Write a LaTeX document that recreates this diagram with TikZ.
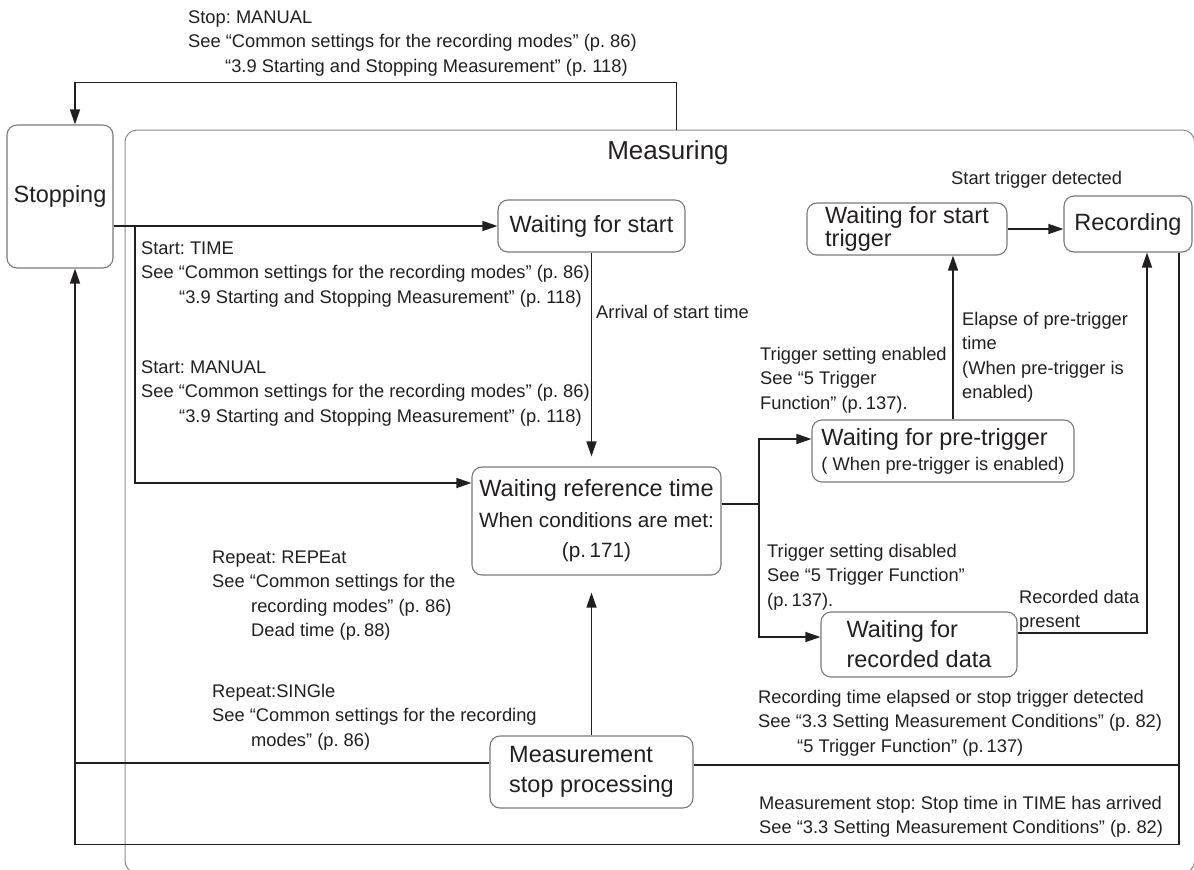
\documentclass[tikz,border=0pt]{standalone}
\usepackage{fontspec}
\setmainfont{Liberation Sans}
\usetikzlibrary{arrows.meta}
\definecolor{ink}{HTML}{231F20}
\definecolor{boxgray}{HTML}{7A7A7A}
\definecolor{megray}{HTML}{8C8C8C}
\newcommand\fbig{\fontsize{23.5}{30}\selectfont}
\newcommand\fmed{\fontsize{20.7}{30}\selectfont}
\newcommand\fsm{\fontsize{18.3}{24.5}\selectfont}
\newcommand\fst{\rule{0pt}{17pt}}
\frenchspacing
\begin{document}
\begin{tikzpicture}[x=1pt,y=-1pt,
  box/.style={draw=boxgray, line width=1.1pt, rounded corners=10pt, inner sep=0pt, text=ink, font=\fbig},
  mbox/.style={draw=megray, line width=1pt, rounded corners=12pt, inner sep=0pt},
  lab/.style={anchor=north west, inner sep=0pt, align=left, text=ink, font=\fsm},
  conn/.style={draw=ink, line width=1.4pt},
  arr/.style={conn, -{Triangle[length=15pt,width=10pt]}}]
\useasboundingbox (0,0) rectangle (1194,870);
\clip (0,0) rectangle (1194,870);

% container
\node[mbox, minimum width=1069.5pt, minimum height=743pt] (meas) at (659.75,501.5) {};
\node[inner sep=0pt, text=ink, font=\fontsize{26}{30}\selectfont] (meastitle) at (668,153) {Measuring};

% state boxes
\node[box, minimum width=106pt, minimum height=143pt] (stop) at (60,196.5) {Stopping};
\node[box, minimum width=187pt, minimum height=52pt] (wfs) at (591.5,226) {Waiting for start};
\node[box, minimum width=200pt, minimum height=52pt, align=left, font=\fontsize{23.5}{22.5}\selectfont] (wfst) at (907,229) {Waiting for start\\trigger};
\node[box, minimum width=128pt, minimum height=56pt] (rec) at (1128,224) {Recording};
\node[box, minimum width=262pt, minimum height=62pt, align=left, font=\fontsize{18.3}{25}\selectfont] (wfpt) at (943,451) {{\fbig Waiting for pre-trigger}\\{\fsm ( When pre-trigger is enabled)}};
\node[box, minimum width=249pt, minimum height=108pt, align=center, font=\fontsize{20.7}{30.5}\selectfont] (wrt) at (596.5,521) {{\fbig Waiting reference time}\\{\fmed When conditions are met:}\\{\fmed (p.\,171)}};
\node[box, minimum width=196pt, minimum height=65pt, align=left] (wfrd) at (919,644.5) {Waiting for\\recorded data};
\node[box, minimum width=203pt, minimum height=72pt, align=left] (msp) at (591.5,772) {Measurement\\stop processing};

% junctions
\coordinate (j1) at (135,226);
\coordinate (j2) at (759,504);
\coordinate (j3) at (1179,765);
\coordinate (j4) at (75,763);

% connectors
\draw[arr] ([xshift=552pt]meas.north west) -- ++(0,-47) -| ([xshift=15pt]stop.north);
\draw[arr] (stop.east |- wfs.west) -- (wfs.west);
\draw[arr] (j1) |- ([yshift=38pt]wrt.west);
\draw[arr, shorten >=10pt] (wfs.south) -- (wfs.south |- wrt.north);
\draw[conn] ([yshift=17pt]wrt.east) -- (j2);
\draw[arr] (j2) |- ([yshift=12pt]wfpt.west);
\draw[arr] (j2) |- ([yshift=7.5pt]wfrd.west);
\draw[arr] ([xshift=10pt]wfpt.north) -- ([xshift=10pt]wfpt.north |- wfst.south);
\draw[arr] (wfst.east) -- (wfst.east -| rec.west);
\draw[arr] ([yshift=11.5pt]wfrd.east) -| ([xshift=19pt]rec.south);
\draw[arr] ([xshift=51pt]rec.south) -- ++(0,592) -| ([xshift=15pt]stop.south);
\draw[conn] (j3) -- (j3 -| msp.east);
\draw[conn] ([yshift=9pt]msp.west) -- (j4);
\draw[arr, shorten >=17pt] (msp.north) -- (msp.north |- wrt.south);

% labels
\node[lab] (ltop) at (188,6) {\fst Stop: MANUAL\\See “Common settings for the recording modes” (p. 86)\\\hspace*{37pt}“3.9 Starting and Stopping Measurement” (p. 118)};
\node[lab] (ltime) at (141,237) {\fst Start: TIME\\See “Common settings for the recording modes” (p. 86)\\\hspace*{38pt}“3.9 Starting and Stopping Measurement” (p. 118)};
\node[lab] (lmanual) at (141,356) {\fst Start: MANUAL\\See “Common settings for the recording modes” (p. 86)\\\hspace*{38pt}“3.9 Starting and Stopping Measurement” (p. 118)};
\node[lab] (larrival) at (596,301) {\fst Arrival of start time};
\node[lab] (lstd) at (951,167) {\fst Start trigger detected};
\node[lab] (ltrigen) at (760,343) {\fst Trigger setting enabled\\See “5 Trigger\\Function” (p.\,137).};
\node[lab] (lelapse) at (962,308) {\fst Elapse of pre-trigger\\time\\(When pre-trigger is\\enabled)};
\node[lab] (lrep) at (212,546) {\fst Repeat: REPEat\\See “Common settings for the\\\hspace*{39pt}recording modes” (p. 86)\\\hspace*{39pt}Dead time (p.\,88)};
\node[lab] (lsingle) at (212,680) {\fst Repeat:SINGle\\See “Common settings for the recording\\\hspace*{39pt}modes” (p. 86)};
\node[lab] (ltrigdis) at (767,540) {\fst Trigger setting disabled\\See “5 Trigger Function”\\(p.\,137).};
\node[lab] (lrecdata) at (1019,586) {\fst Recorded data\\present};
\node[lab] (lrectime) at (758,686) {\fst Recording time elapsed or stop trigger detected\\See “3.3 Setting Measurement Conditions” (p. 82)\\\hspace*{39pt}“5 Trigger Function” (p.\,137)};
\node[lab] (lmstop) at (759,792) {\fst Measurement stop: Stop time in TIME has arrived\\See “3.3 Setting Measurement Conditions” (p. 82)};
\end{tikzpicture}
\end{document}
